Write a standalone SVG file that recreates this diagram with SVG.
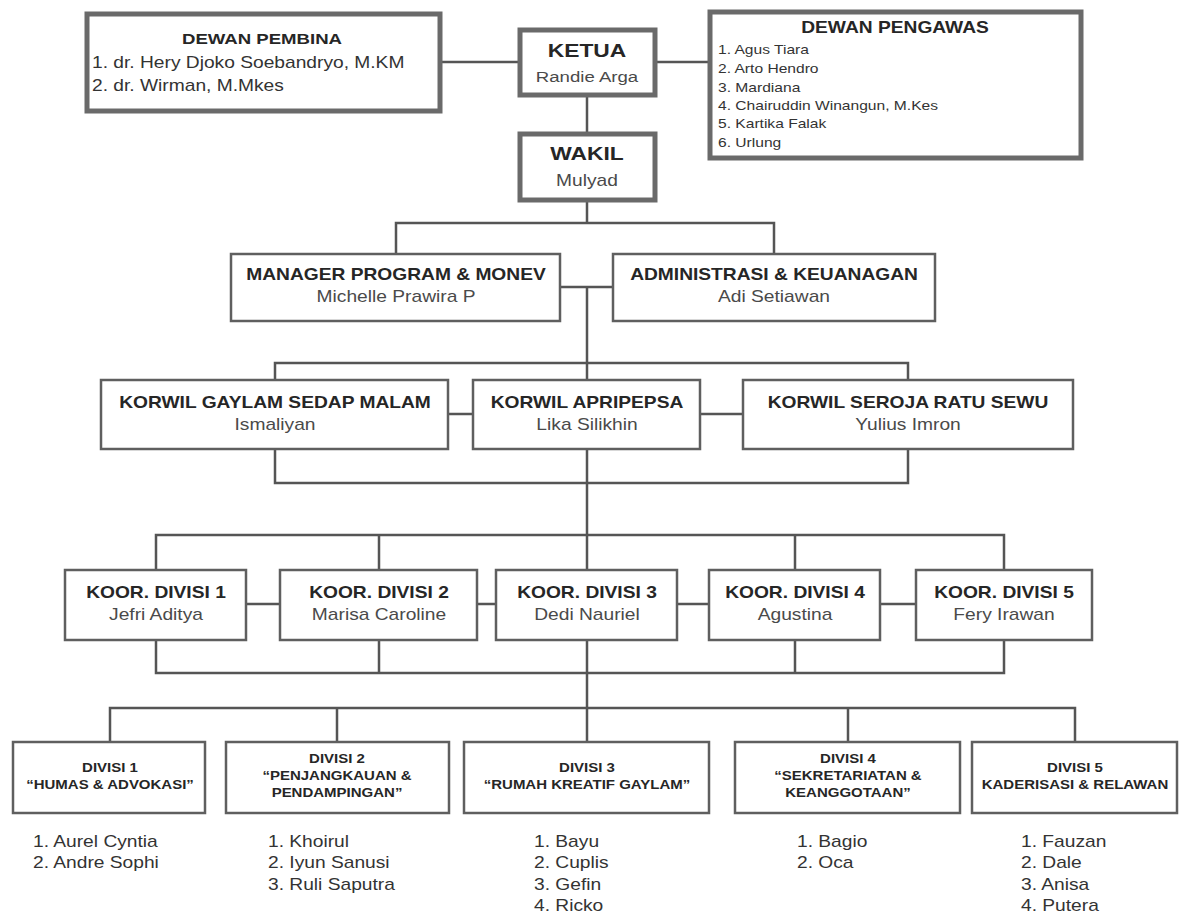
<svg xmlns="http://www.w3.org/2000/svg" width="1182" height="918" viewBox="0 0 1182 918">
<style>
.bg{fill:#fff}
.bx{fill:#fff;stroke:#5f5f5f;stroke-width:2.5}
.bxT{fill:#fff;stroke:#6a6a6a;stroke-width:5}
.ln{fill:none;stroke:#555;stroke-width:2.5}
text{font-family:"Liberation Sans",Arial,sans-serif}
.h{font-weight:bold;fill:#262626;font-size:16px;text-anchor:middle}
.hb{font-weight:bold;fill:#262626;font-size:19px;text-anchor:middle}
.n{fill:#4a4a4a;font-size:16px;text-anchor:middle}
.l{fill:#333;font-size:16px}
.s{fill:#333;font-size:13px}
.d{font-weight:bold;fill:#262626;font-size:12.5px;text-anchor:middle}
</style>
<rect class="bg" x="0" y="0" width="1182" height="918"/>
<g id="connectors">
<path class="ln" d="M442,62 H518 M657,62 H708 M587,97 V132"/>
<path class="ln" d="M587,202 V223 M396,253 V223 H774 V253"/>
<path class="ln" d="M561,287 H613 M587,287 V380"/>
<path class="ln" d="M275,380 V363 H908 V380"/>
<path class="ln" d="M448,414 H473 M700,414 H743"/>
<path class="ln" d="M275,449 V483 H908 V449 M587,449 V570"/>
<path class="ln" d="M156,570 V535 H1004 V570 M379,535 V570 M795,535 V570"/>
<path class="ln" d="M246,604 H280 M477,604 H496 M677,604 H709 M880,604 H916"/>
<path class="ln" d="M156,640 V673 H1004 V640 M379,640 V673 M795,640 V673 M587,640 V742"/>
<path class="ln" d="M110,742 V708 H1075 V742 M337,708 V742 M848,708 V742"/>
</g>
<g id="dewan-pembina">
<rect class="bxT" x="87" y="14" width="353" height="97"/>
<text class="h" transform="matrix(1.2 0 0 1 262 0)" x="0" y="44" style="font-size:15.5px">DEWAN PEMBINA</text>
<text class="l" transform="matrix(1.2 0 0 1 92 0)" x="0" y="68">1. dr. Hery Djoko Soebandryo, M.KM</text>
<text class="l" transform="matrix(1.2 0 0 1 92 0)" x="0" y="91">2. dr. Wirman, M.Mkes</text>
</g>
<g id="ketua">
<rect class="bxT" x="520" y="30" width="135" height="65"/>
<text class="hb" transform="matrix(1.2 0 0 1 587 0)" x="0" y="57">KETUA</text>
<text class="n" transform="matrix(1.2 0 0 1 587 0)" x="0" y="82" style="font-size:15.5px">Randie Arga</text>
</g>
<g id="wakil">
<rect class="bxT" x="520" y="134" width="135" height="66"/>
<text class="hb" transform="matrix(1.2 0 0 1 587 0)" x="0" y="160">WAKIL</text>
<text class="n" transform="matrix(1.2 0 0 1 587 0)" x="0" y="186">Mulyad</text>
</g>
<g id="dewan-pengawas">
<rect class="bxT" x="710" y="12" width="371" height="146"/>
<text class="h" transform="matrix(1.2 0 0 1 895 0)" x="0" y="33">DEWAN PENGAWAS</text>
<text class="s" transform="matrix(1.2 0 0 1 718 0)" x="0" y="54">1. Agus Tiara</text>
<text class="s" transform="matrix(1.2 0 0 1 718 0)" x="0" y="73">2. Arto Hendro</text>
<text class="s" transform="matrix(1.2 0 0 1 718 0)" x="0" y="92">3. Mardiana</text>
<text class="s" transform="matrix(1.2 0 0 1 718 0)" x="0" y="110">4. Chairuddin Winangun, M.Kes</text>
<text class="s" transform="matrix(1.2 0 0 1 718 0)" x="0" y="128">5. Kartika Falak</text>
<text class="s" transform="matrix(1.2 0 0 1 718 0)" x="0" y="147">6. Urlung</text>
</g>
<g id="manager">
<rect class="bx" x="231" y="254" width="329" height="67"/>
<text class="h" transform="matrix(1.2 0 0 1 396 0)" x="0" y="280">MANAGER PROGRAM &amp; MONEV</text>
<text class="n" transform="matrix(1.2 0 0 1 396 0)" x="0" y="302">Michelle Prawira P</text>
</g>
<g id="administrasi">
<rect class="bx" x="613" y="254" width="322" height="67"/>
<text class="h" transform="matrix(1.2 0 0 1 774 0)" x="0" y="280">ADMINISTRASI &amp; KEUANAGAN</text>
<text class="n" transform="matrix(1.2 0 0 1 774 0)" x="0" y="302">Adi Setiawan</text>
</g>
<g id="korwil-gaylam">
<rect class="bx" x="101" y="380" width="347" height="69"/>
<text class="h" transform="matrix(1.2 0 0 1 275 0)" x="0" y="408">KORWIL GAYLAM SEDAP MALAM</text>
<text class="n" transform="matrix(1.2 0 0 1 275 0)" x="0" y="430">Ismaliyan</text>
</g>
<g id="korwil-apripepsa">
<rect class="bx" x="473" y="380" width="227" height="69"/>
<text class="h" transform="matrix(1.2 0 0 1 587 0)" x="0" y="408">KORWIL APRIPEPSA</text>
<text class="n" transform="matrix(1.2 0 0 1 587 0)" x="0" y="430">Lika Silikhin</text>
</g>
<g id="korwil-seroja">
<rect class="bx" x="743" y="380" width="330" height="69"/>
<text class="h" transform="matrix(1.2 0 0 1 908 0)" x="0" y="408">KORWIL SEROJA RATU SEWU</text>
<text class="n" transform="matrix(1.2 0 0 1 908 0)" x="0" y="430">Yulius Imron</text>
</g>
<g id="koor-1">
<rect class="bx" x="65" y="570" width="181" height="70"/>
<text class="h" transform="matrix(1.2 0 0 1 156 0)" x="0" y="598">KOOR. DIVISI 1</text>
<text class="n" transform="matrix(1.2 0 0 1 156 0)" x="0" y="620">Jefri Aditya</text>
</g>
<g id="koor-2">
<rect class="bx" x="280" y="570" width="197" height="70"/>
<text class="h" transform="matrix(1.2 0 0 1 379 0)" x="0" y="598">KOOR. DIVISI 2</text>
<text class="n" transform="matrix(1.2 0 0 1 379 0)" x="0" y="620">Marisa Caroline</text>
</g>
<g id="koor-3">
<rect class="bx" x="496" y="570" width="181" height="70"/>
<text class="h" transform="matrix(1.2 0 0 1 587 0)" x="0" y="598">KOOR. DIVISI 3</text>
<text class="n" transform="matrix(1.2 0 0 1 587 0)" x="0" y="620">Dedi Nauriel</text>
</g>
<g id="koor-4">
<rect class="bx" x="709" y="570" width="171" height="70"/>
<text class="h" transform="matrix(1.2 0 0 1 795 0)" x="0" y="598">KOOR. DIVISI 4</text>
<text class="n" transform="matrix(1.2 0 0 1 795 0)" x="0" y="620">Agustina</text>
</g>
<g id="koor-5">
<rect class="bx" x="916" y="570" width="176" height="70"/>
<text class="h" transform="matrix(1.2 0 0 1 1004 0)" x="0" y="598">KOOR. DIVISI 5</text>
<text class="n" transform="matrix(1.2 0 0 1 1004 0)" x="0" y="620">Fery Irawan</text>
</g>
<g id="divisi-1">
<rect class="bx" x="13" y="742" width="192" height="71"/>
<text class="d" transform="matrix(1.2 0 0 1 110 0)" x="0" y="772">DIVISI 1</text>
<text class="d" transform="matrix(1.2 0 0 1 110 0)" x="0" y="789">“HUMAS &amp; ADVOKASI”</text>
<text class="l" transform="matrix(1.2 0 0 1 33 0)" x="0" y="847">1. Aurel Cyntia</text>
<text class="l" transform="matrix(1.2 0 0 1 33 0)" x="0" y="868">2. Andre Sophi</text>
</g>
<g id="divisi-2">
<rect class="bx" x="226" y="742" width="223" height="71"/>
<text class="d" transform="matrix(1.2 0 0 1 337 0)" x="0" y="763">DIVISI 2</text>
<text class="d" transform="matrix(1.2 0 0 1 337 0)" x="0" y="780">“PENJANGKAUAN &amp;</text>
<text class="d" transform="matrix(1.2 0 0 1 337 0)" x="0" y="797">PENDAMPINGAN”</text>
<text class="l" transform="matrix(1.2 0 0 1 268 0)" x="0" y="847">1. Khoirul</text>
<text class="l" transform="matrix(1.2 0 0 1 268 0)" x="0" y="868">2. Iyun Sanusi</text>
<text class="l" transform="matrix(1.2 0 0 1 268 0)" x="0" y="890">3. Ruli Saputra</text>
</g>
<g id="divisi-3">
<rect class="bx" x="464" y="742" width="245" height="71"/>
<text class="d" transform="matrix(1.2 0 0 1 587 0)" x="0" y="772">DIVISI 3</text>
<text class="d" transform="matrix(1.2 0 0 1 587 0)" x="0" y="789">“RUMAH KREATIF GAYLAM”</text>
<text class="l" transform="matrix(1.2 0 0 1 534 0)" x="0" y="847">1. Bayu</text>
<text class="l" transform="matrix(1.2 0 0 1 534 0)" x="0" y="868">2. Cuplis</text>
<text class="l" transform="matrix(1.2 0 0 1 534 0)" x="0" y="890">3. Gefin</text>
<text class="l" transform="matrix(1.2 0 0 1 534 0)" x="0" y="911">4. Ricko</text>
</g>
<g id="divisi-4">
<rect class="bx" x="735" y="742" width="225" height="71"/>
<text class="d" transform="matrix(1.2 0 0 1 848 0)" x="0" y="763">DIVISI 4</text>
<text class="d" transform="matrix(1.2 0 0 1 848 0)" x="0" y="780">“SEKRETARIATAN &amp;</text>
<text class="d" transform="matrix(1.2 0 0 1 848 0)" x="0" y="797">KEANGGOTAAN”</text>
<text class="l" transform="matrix(1.2 0 0 1 797 0)" x="0" y="847">1. Bagio</text>
<text class="l" transform="matrix(1.2 0 0 1 797 0)" x="0" y="868">2. Oca</text>
</g>
<g id="divisi-5">
<rect class="bx" x="972" y="742" width="205" height="71"/>
<text class="d" transform="matrix(1.2 0 0 1 1075 0)" x="0" y="772">DIVISI 5</text>
<text class="d" transform="matrix(1.2 0 0 1 1075 0)" x="0" y="789">KADERISASI &amp; RELAWAN</text>
<text class="l" transform="matrix(1.2 0 0 1 1021 0)" x="0" y="847">1. Fauzan</text>
<text class="l" transform="matrix(1.2 0 0 1 1021 0)" x="0" y="868">2. Dale</text>
<text class="l" transform="matrix(1.2 0 0 1 1021 0)" x="0" y="890">3. Anisa</text>
<text class="l" transform="matrix(1.2 0 0 1 1021 0)" x="0" y="911">4. Putera</text>
</g>
</svg>
